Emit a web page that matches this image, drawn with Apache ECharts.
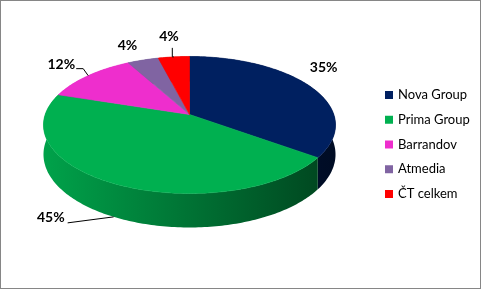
<!DOCTYPE html>
<html>
<head>
<meta charset="utf-8">
<script src="https://cdn.jsdelivr.net/npm/echarts@6/dist/echarts.min.js"></script>
<style>
  html, body { margin: 0; padding: 0; background: #fff; }
  #chart { width: 481px; height: 289px; box-sizing: border-box; border: 1px solid #868686; }
</style>
</head>
<body>
<div id="chart"></div>
<script>
// ---- data ----
const categories = ['Nova Group', 'Prima Group', 'Barrandov', 'Atmedia', 'ČT celkem'];
const values = [35, 45, 12, 4, 4];
const percentLabels = ['35%', '45%', '12%', '4%', '4%'];

// ---- styles ----
const colors = ['#002060', '#00B050', '#EE2ECD', '#8064A2', '#FF0000'];

// ---- 3D pie geometry (perspective projection) ----
const G = { cx: 188.5, cy: 113.5, A: 144.3, B: 66.9, p: 0.153, H: 28.8 };
function proj(theta, r, down) {
  const X = r * Math.sin(theta), Z = r * Math.cos(theta);
  const w = 1 + G.p * Z;
  return [G.cx + G.A * X / w, G.cy - G.B * Z / w + (down ? G.H / w : 0)];
}
function shade(hex, f) {
  const n = parseInt(hex.slice(1), 16);
  const r = Math.round(((n >> 16) & 255) * f), g = Math.round(((n >> 8) & 255) * f), b = Math.round((n & 255) * f);
  return 'rgb(' + r + ',' + g + ',' + b + ')';
}
const total = values.reduce((a, b) => a + b, 0);
const starts = [];
(function () { let acc = 0; values.forEach(v => { starts.push(acc); acc += v; }); })();

// label layout: anchor ('top' rim or 'bottom' rim), text offset, alignment, leader bends
const labelLayout = [
  { anchor: 'top', dx: 14, dy: -19, align: 'center', leader: null },
  { anchor: 'bottom', dx: -49, dy: 1, align: 'right', leader: [[-46, 6]] },
  { anchor: 'top', dx: -13, dy: -11, align: 'right', leader: [[-5, -7], [-12, -7]] },
  { anchor: 'top', dx: -15.5, dy: -14.5, align: 'center', leader: null },
  { anchor: 'top', dx: -4.8, dy: -20.4, align: 'center', leader: [[-1.5, 0], [-1.5, -9]] }
];

function renderSlice(i) {
  const a0 = starts[i] / total * Math.PI * 2;
  const a1 = (starts[i] + values[i]) / total * Math.PI * 2;
  const steps = Math.max(2, Math.ceil((a1 - a0) / (Math.PI / 180)));
  const topPts = [], botPts = [];
  for (let k = 0; k <= steps; k++) {
    const t = a0 + (a1 - a0) * k / steps;
    topPts.push(proj(t, 1, false));
    botPts.push(proj(t, 1, true));
  }
  const children = [];
  // side wall
  const wall = topPts.concat(botPts.slice().reverse());
  const left = G.cx - G.A / Math.sqrt(1 - G.p * G.p);
  const right = G.cx + G.A / Math.sqrt(1 - G.p * G.p);
  children.push({
    type: 'polygon', z2: 1, silent: true,
    shape: { points: wall },
    style: {
      fill: new echarts.graphic.LinearGradient(left, 0, right, 0, [
        { offset: 0, color: shade(colors[i], 0.92) },
        { offset: 1, color: shade(colors[i], 0.38) }
      ], true),
      stroke: null
    }
  });
  // top face
  const apex = proj(0, 0, false);
  children.push({
    type: 'polygon', z2: 5, silent: true,
    shape: { points: [apex].concat(topPts) },
    style: { fill: colors[i], stroke: colors[i], lineWidth: 0.6 }
  });
  // label
  const mid = (a0 + a1) / 2;
  const L = labelLayout[i];
  const anc = proj(mid, 1, L.anchor === 'bottom');
  if (L.leader) {
    const pts = [anc].concat(L.leader.map(d => [anc[0] + d[0], anc[1] + d[1]]));
    children.push({
      type: 'polyline', z2: 8, silent: true,
      shape: { points: pts },
      style: { stroke: '#000', lineWidth: 1, fill: null }
    });
  }
  children.push({
    type: 'text', z2: 10, silent: true,
    x: anc[0] + L.dx, y: anc[1] + L.dy,
    style: {
      text: percentLabels[i], fill: '#000',
      font: 'bold 14px Lato, "Open Sans", sans-serif',
      align: L.align, verticalAlign: 'middle'
    }
  });
  return { type: 'group', children: children };
}

const chart = echarts.init(document.getElementById('chart'), null, { renderer: 'canvas' });
chart.setOption({
  animation: false,
  legend: {
    orient: 'vertical',
    left: 384,
    top: 87,
    padding: 0,
    icon: 'rect',
    itemWidth: 8,
    itemHeight: 8,
    itemGap: 10.75,
    textStyle: { fontFamily: 'Lato', fontSize: 13, color: '#000', lineHeight: 14 },
    data: categories,
    selectedMode: false
  },
  series: categories.map((name, i) => ({
    type: 'custom',
    name: name,
    coordinateSystem: 'none',
    itemStyle: { color: colors[i] },
    silent: true,
    data: [values[i]],
    renderItem: function () { return renderSlice(i); }
  }))
});
</script>
</body>
</html>
